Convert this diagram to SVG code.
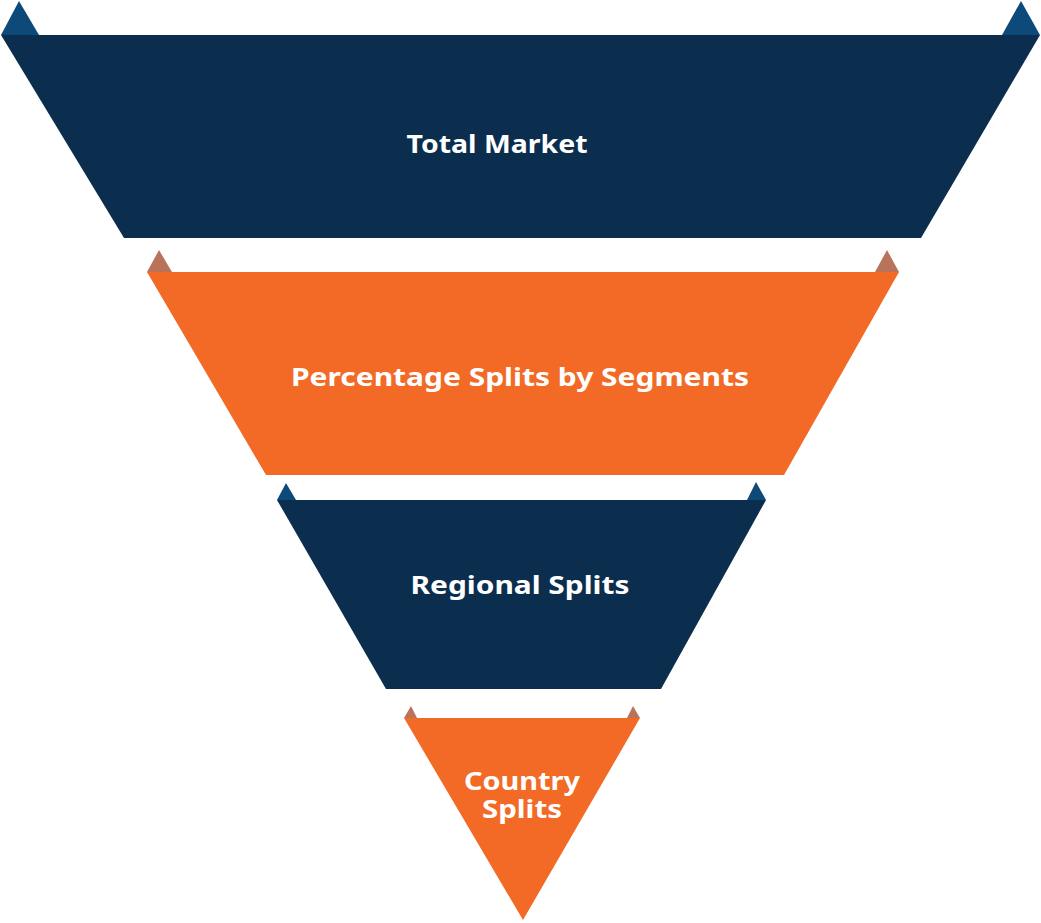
<svg xmlns="http://www.w3.org/2000/svg" width="1041" height="923" viewBox="0 0 1041 923">
<style>
.navy{fill:#0B2E4F}
.blue{fill:#0D4A7A}
.orange{fill:#F26A25}
.brown{fill:#B8735A}
.lbl{fill:#FFFFFF;font-family:"Noto Sans","Open Sans",sans-serif;font-weight:700;font-size:25px;text-anchor:middle}
</style>
<rect width="1041" height="923" fill="#FFFFFF"/>
<g id="tier-total-market">
<polygon class="blue" points="1,35 39,35 19,1"/>
<polygon class="blue" points="1002,35 1040,35 1021,1"/>
<polygon class="navy" points="1,35 1040,35 921,238 124,238"/>
<text class="lbl" x="497" y="153" textLength="181" lengthAdjust="spacingAndGlyphs">Total Market</text>
</g>
<g id="tier-percentage-splits">
<polygon class="brown" points="147,272 172,272 159,250"/>
<polygon class="brown" points="875,272 899,272 887,250"/>
<polygon class="orange" points="147,272 899,272 784,475 266,475"/>
<text class="lbl" x="520" y="386" textLength="458" lengthAdjust="spacingAndGlyphs">Percentage Splits by Segments</text>
</g>
<g id="tier-regional-splits">
<polygon class="blue" points="277,500 296,500 286,483"/>
<polygon class="blue" points="747,500 766,500 756,482"/>
<polygon class="navy" points="277,500 766,500 661,689 386,689"/>
<text class="lbl" x="520" y="594" textLength="219" lengthAdjust="spacingAndGlyphs">Regional Splits</text>
</g>
<g id="tier-country-splits">
<polygon class="brown" points="404,718 417,718 411,706"/>
<polygon class="brown" points="627,718 640,718 633,706"/>
<polygon class="orange" points="404,718 640,718 523,920"/>
<text class="lbl" x="522" y="790" textLength="116" lengthAdjust="spacingAndGlyphs">Country</text>
<text class="lbl" x="522" y="818" textLength="80" lengthAdjust="spacingAndGlyphs">Splits</text>
</g>
<g id="connectors"/>
</svg>
